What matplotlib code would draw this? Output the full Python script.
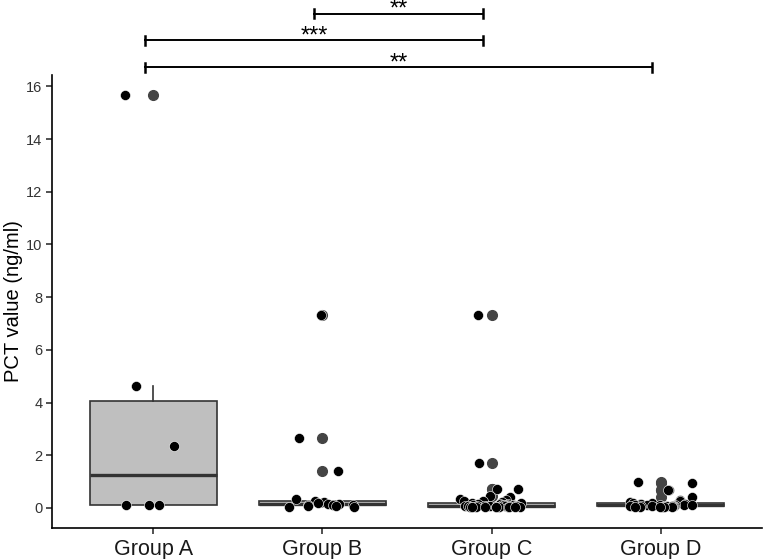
import numpy as np
import matplotlib
matplotlib.use('Agg')
import matplotlib.pyplot as plt

plt.rcParams['font.family'] = ['Liberation Sans', 'DejaVu Sans']

groups = ['Group A', 'Group B', 'Group C', 'Group D']

# PCT values (ng/ml)
group_a = [15.67, 4.63, 2.35, 0.10, 0.12, 0.10]
group_b = [7.31, 2.67, 1.40, 0.33, 0.25, 0.22, 0.19, 0.16, 0.14, 0.12,
           0.11, 0.10, 0.08, 0.06, 0.05, 0.04]
group_c = [7.31, 1.70, 0.72, 0.72, 0.45, 0.40, 0.35, 0.30, 0.28, 0.25,
           0.22, 0.20, 0.18, 0.16, 0.15, 0.14, 0.13, 0.12, 0.12, 0.11,
           0.10, 0.10, 0.09, 0.09, 0.08, 0.08, 0.08, 0.07, 0.07, 0.07,
           0.06, 0.06, 0.06, 0.05, 0.05, 0.05, 0.05, 0.04, 0.04, 0.04,
           0.03, 0.03, 0.03, 0.02, 0.02]
group_d = [0.97, 0.95, 0.68, 0.68, 0.42, 0.30, 0.25, 0.22, 0.20, 0.18,
           0.16, 0.15, 0.14, 0.13, 0.12, 0.12, 0.11, 0.10, 0.10, 0.09,
           0.09, 0.08, 0.08, 0.07, 0.07, 0.06, 0.06, 0.05, 0.05, 0.04,
           0.04, 0.03, 0.03]

# significance brackets: (from group, to group, label)
comparisons = [(2, 3, '**'), (1, 3, '***'), (1, 4, '**')]
bracket_y = [18.75, 17.74, 16.72]

data = [group_a, group_b, group_c, group_d]
pos = np.arange(1, len(groups) + 1)

fig = plt.figure(figsize=(7.65, 5.59), dpi=100)
ax = fig.add_axes([52 / 765, 31 / 559, 710 / 765, 453 / 559])

edge = '#333333'
ax.boxplot(data, positions=pos, widths=0.75, patch_artist=True,
           boxprops=dict(facecolor='#BFBFBF', edgecolor=edge, linewidth=1.2),
           medianprops=dict(color=edge, linewidth=2.4),
           whiskerprops=dict(color=edge, linewidth=1.2),
           capprops=dict(linewidth=0),
           flierprops=dict(marker='o', markerfacecolor='#444444',
                           markeredgecolor='#444444', markersize=7),
           zorder=1)

rng = np.random.default_rng(3)
for p, vals in zip(pos, data):
    xs = p + rng.uniform(-0.2, 0.2, len(vals))
    ax.scatter(xs, vals, s=52, color='black', edgecolor='white',
               linewidth=0.4, zorder=3)

ax.set_xlim(0.4, 4.6)
ax.set_ylim(-0.76, 16.43)
ax.set_yticks(range(0, 17, 2))
ax.set_xticks(pos)
ax.set_xticklabels(groups)

for side in ['top', 'right']:
    ax.spines[side].set_visible(False)
for side in ['left', 'bottom']:
    ax.spines[side].set_linewidth(1.2)
ax.tick_params(axis='both', direction='out', length=4, width=1.2, color=edge)
ax.tick_params(axis='y', labelsize=10.5, labelcolor='#333333', pad=3)
ax.tick_params(axis='x', labelsize=15.5, labelcolor='#1a1a1a', pad=4)
ax.set_ylabel('PCT value (ng/ml)', fontsize=14.5, labelpad=2)

# brackets sit slightly left of the group centres in the reference
shift = -0.05
tip = 0.17
for (g1, g2, lab), y in zip(comparisons, bracket_y):
    x1, x2 = g1 + shift, g2 + shift
    ax.plot([x1, x2], [y, y], color='black', linewidth=1.4, clip_on=False)
    ax.plot([x1, x1], [y - tip, y + tip], color='black', linewidth=1.8,
            clip_on=False)
    ax.plot([x2, x2], [y - tip, y + tip], color='black', linewidth=1.8,
            clip_on=False)
    ax.text((x1 + x2) / 2, y - 0.27, lab, ha='center', va='bottom',
            fontsize=17, clip_on=False)

fig.savefig('out.png', dpi=100)
